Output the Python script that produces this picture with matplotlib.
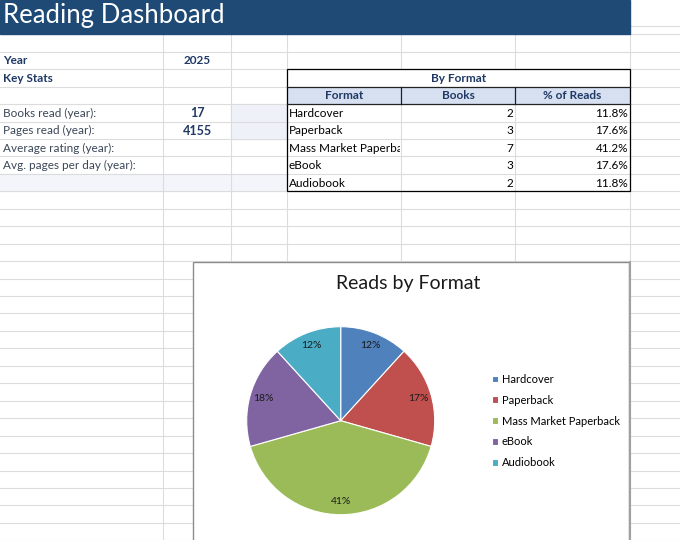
import matplotlib.pyplot as plt
from matplotlib.patches import Rectangle
from matplotlib.transforms import Bbox, TransformedBbox

plt.rcParams['font.family'] = ['Lato', 'DejaVu Sans']

# data
year = 2025
stat_labels = ['Books read (year):', 'Pages read (year):', 'Average rating (year):', 'Avg. pages per day (year):']
stat_values = ['17', '4155', '', '']
formats = ['Hardcover', 'Paperback', 'Mass Market Paperback', 'eBook', 'Audiobook']
books = [2, 3, 7, 3, 2]
pct_reads = ['11.8%', '17.6%', '41.2%', '17.6%', '11.8%']
pie_labels = ['12%', '17%', '41%', '18%', '12%']
colors = ['#4f81bd', '#c0504d', '#9bbb59', '#8064a2', '#4bacc6']

NAVY = '#1f3864'
GRID = '#dcdcdc'
W, H = 680, 540

fig = plt.figure(figsize=(6.8, 5.4), dpi=100)
bg = fig.add_axes([0, 0, 1, 1])
bg.set_xlim(0, W)
bg.set_ylim(H, 0)
bg.axis('off')

# sheet grid
row0, rh = 34.25, 17.45
rows = [row0 + rh * k for k in range(30)]
cols = [163.3, 230.7, 286.7, 401, 515, 630]
for y in rows[1:]:
    bg.plot([0, W], [y, y], color=GRID, lw=0.8, zorder=1)
for x in cols:
    bg.plot([x, x], [33.7, H], color=GRID, lw=0.8, zorder=1)
for y in [26, 33.7]:
    bg.plot([630, W], [y, y], color=GRID, lw=0.8, zorder=1)

# light fills
fill = '#eef2f8'
bg.add_patch(Rectangle((230.7, rows[4]), 56, rh * 2, color=fill, zorder=0.5))
bg.add_patch(Rectangle((0, rows[8]), 286.7, rh, color='#f3f5fa', zorder=0.5))

# title band
bg.add_patch(Rectangle((0, 0), 630, 33.7, color='#1f4a76', zorder=2))
bg.text(3, 15.5, 'Reading Dashboard', color='white', fontsize=18.5, va='center', ha='left', zorder=3)

def mid(k):
    return rows[k] + rh / 2 + 0.5

# key stats
bg.text(3, mid(1), 'Year', color=NAVY, fontsize=8.5, fontweight='bold', va='center')
bg.text(197, mid(1), str(year), color=NAVY, fontsize=8.5, fontweight='bold', va='center', ha='center')
bg.text(3, mid(2), 'Key Stats', color=NAVY, fontsize=8.5, fontweight='bold', va='center')
for i, (lab, val) in enumerate(zip(stat_labels, stat_values)):
    bg.text(3, mid(4 + i), lab, color='#3b4657', fontsize=8.5, va='center')
    bg.text(197, mid(4 + i), val, color=NAVY, fontsize=9, fontweight='bold', va='center', ha='center')

# table
tx0, tx1 = 286.7, 630
bg.add_patch(Rectangle((tx0, rows[2]), tx1 - tx0, rh, facecolor='white', zorder=2))
bg.add_patch(Rectangle((tx0, rows[3]), tx1 - tx0, rh, facecolor='#d6e0f0', zorder=2))
bg.text((tx0 + tx1) / 2, mid(2), 'By Format', color=NAVY, fontsize=8.5, fontweight='bold', ha='center', va='center', zorder=4)
for a, b, h in zip(cols[2:5], cols[3:6], ['Format', 'Books', '% of Reads']):
    bg.text((a + b) / 2, mid(3), h, color=NAVY, fontsize=8.5, fontweight='bold', ha='center', va='center', zorder=4)
clipbox = TransformedBbox(Bbox([[tx0, rows[4]], [400, rows[9]]]), bg.transData)
for i, (f, n, p) in enumerate(zip(formats, books, pct_reads)):
    t = bg.text(tx0 + 2, mid(4 + i), f, color='black', fontsize=8.5, va='center', zorder=4)
    t.set_clip_box(clipbox)
    t.set_clip_on(True)
    bg.text(513, mid(4 + i), str(n), color='black', fontsize=8.5, va='center', ha='right', zorder=4)
    bg.text(628, mid(4 + i), p, color='black', fontsize=8.5, va='center', ha='right', zorder=4)
# table borders
bg.add_patch(Rectangle((tx0, rows[2]), tx1 - tx0, rh * 7, fill=False, edgecolor='black', lw=0.9, zorder=5))
for y in [rows[3], rows[4]]:
    bg.plot([tx0, tx1], [y, y], color='#222222', lw=0.9, zorder=5)
for x in [401, 515]:
    bg.plot([x, x], [rows[3], rows[4]], color='#222222', lw=0.9, zorder=5)

# chart box
cx0, cy0, cx1 = 193.3, 262.3, 629
bg.add_patch(Rectangle((cx0, cy0), cx1 - cx0, H - cy0 + 5, facecolor='white', edgecolor='#8c8c8c', lw=1, zorder=6))
bg.plot([cx1 + 0.5, cx1 + 0.5], [cy0, H], color='#a0a0a0', lw=1.5, zorder=6)
bg.text(408, 284, 'Reads by Format', fontsize=14, ha='center', va='center', color='#1a1a1a', zorder=7)

# pie
pcx, pcy, r = 340.7, 420.7, 94
pax = fig.add_axes([(pcx - r) / W, 1 - (pcy + r) / H, 2 * r / W, 2 * r / H])
wedges, texts = pax.pie(books, labels=pie_labels, colors=colors, startangle=90, counterclock=False,
                        labeldistance=0.86, wedgeprops=dict(edgecolor='white', linewidth=0.8, clip_on=False),
                        textprops=dict(fontsize=7.5, color='#1a1a1a'))
for t in texts:
    t.set_ha('center')
    t.set_va('center')
pax.set_xlim(-1, 1)
pax.set_ylim(-1, 1)
pax.set_zorder(8)

fig.legend(wedges, formats, loc='upper left', bbox_to_anchor=(492 / W, 1 - 374 / H), frameon=False,
           fontsize=8, handlelength=0.55, handleheight=0.55, handletextpad=0.35, labelspacing=0.88,
           borderpad=0, borderaxespad=0)

fig.savefig('out.png', dpi=100)
